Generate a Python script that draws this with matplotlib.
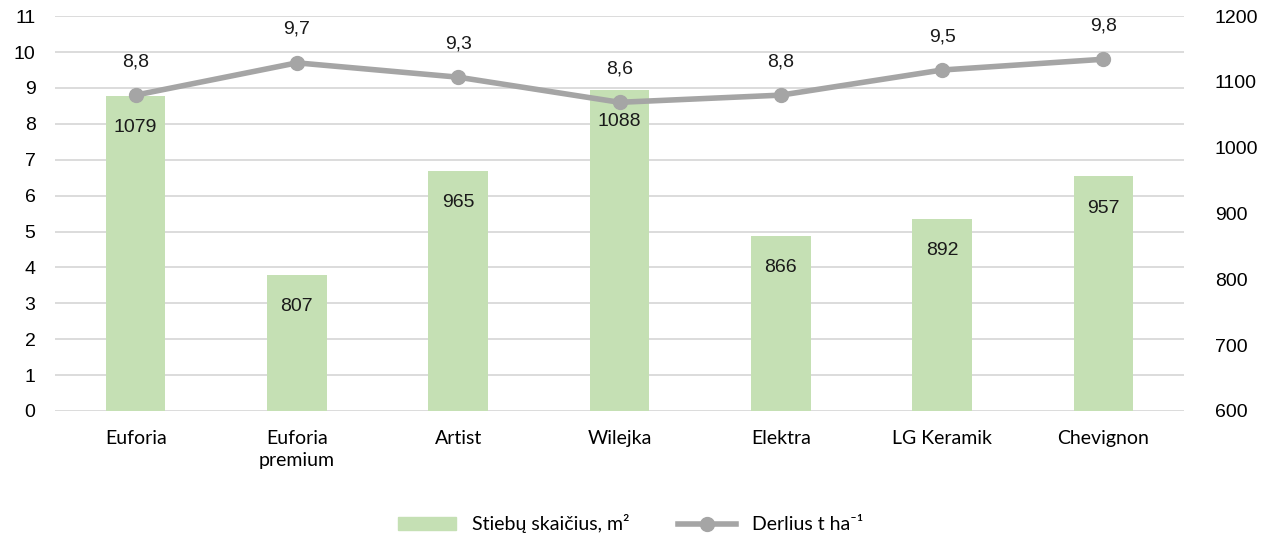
import matplotlib.pyplot as plt
import numpy as np

categories = ['Euforia', 'Euforia\npremium', 'Artist', 'Wilejka', 'Elektra', 'LG Keramik', 'Chevignon']
stems = [1079, 807, 965, 1088, 866, 892, 957]
yield_t = [8.8, 9.7, 9.3, 8.6, 8.8, 9.5, 9.8]

plt.rcParams['font.family'] = ['Liberation Sans', 'DejaVu Sans']

fig = plt.figure(figsize=(12.61, 5.39), dpi=100)
ax = fig.add_axes([0.0436, 0.2375, 0.8954, 0.7325])
ax2 = ax.twinx()

x = np.arange(len(categories))

# stulpeliai - dešinė ašis
ax2.bar(x, stems, width=0.37, color='#C5E0B4', zorder=2)
ax2.set_ylim(600, 1200)
ax2.set_yticks(range(600, 1201, 100))
for xi, v in zip(x, stems):
    ax2.annotate(str(v), (xi, v), xytext=(0, -23), textcoords='offset points',
                 ha='center', va='center', fontsize=14, color='#1a1a1a', zorder=5)

# linija - kairė ašis
ax.set_zorder(ax2.get_zorder() + 1)
ax.patch.set_visible(False)
ax.plot(x, yield_t, color='#A5A5A5', lw=4, marker='o', ms=10, zorder=4)
ax.set_ylim(0, 11)
ax.set_yticks(range(0, 12))
for xi, v in zip(x, yield_t):
    ax.annotate(f'{v:.1f}'.replace('.', ','), (xi, v), xytext=(0, 24), textcoords='offset points',
                ha='center', va='center', fontsize=14, color='#1a1a1a')

ax.set_xlim(-0.5, len(categories) - 0.5)
ax.set_xticks(x)
ax.set_xticklabels(categories, fontsize=14, family=['Lato', 'DejaVu Sans'], linespacing=1.3)
ax.tick_params(axis='x', length=0, pad=14)
ax.tick_params(axis='y', length=0, labelsize=14, pad=14)
ax2.tick_params(axis='y', length=0, labelsize=14, pad=22)

# tinklelis
for yv in range(0, 12):
    ax2.axhline(600 + yv * 600 / 11, color='#D9D9D9', lw=1.3, zorder=0)

for a in (ax, ax2):
    for s in a.spines.values():
        s.set_visible(False)

h1 = plt.Rectangle((0, 0), 1, 1, color='#C5E0B4')
h2, = ax.plot([], [], color='#A5A5A5', lw=4, marker='o', ms=10)
fig.legend([h1, h2], ['Stiebų skaičius, m²', 'Derlius t ha⁻¹'], loc='center',
           bbox_to_anchor=(0.5, 0.028), ncol=2, frameon=False,
           prop={'family': ['Lato', 'DejaVu Sans'], 'size': 14},
           handlelength=3, columnspacing=2.5)

fig.savefig('out.png', dpi=100)
